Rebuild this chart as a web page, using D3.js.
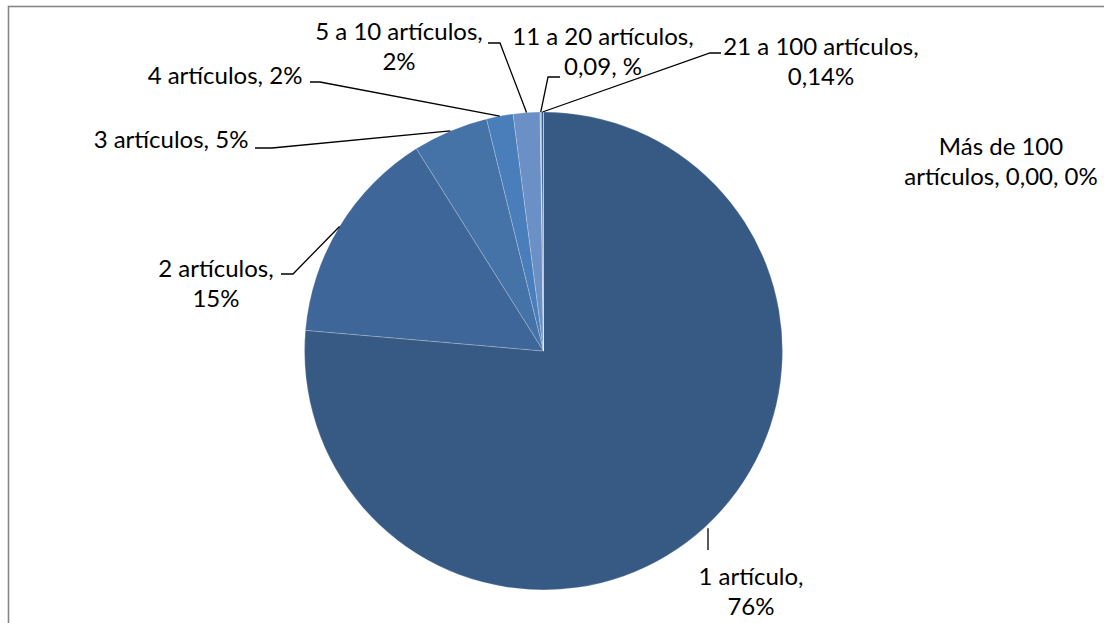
<!DOCTYPE html>
<html><head><meta charset="utf-8">
<script src="https://cdn.jsdelivr.net/npm/d3@7"></script>
<style>html,body{margin:0;padding:0;background:#fff;}svg{display:block;}</style>
</head><body>
<svg id="chart" width="1104" height="623"></svg>
<script>
// ---- data ----
const categories = ["1 artículo","2 artículos","3 artículos","4 artículos","5 a 10 artículos","11 a 20 artículos","21 a 100 artículos","Más de 100 artículos"];
const values = [76.4, 14.7, 5.1, 1.8, 1.8, 0.09, 0.14, 0];
const labelLines = [
  ["1 artículo,","76%"],
  ["2 artículos,","15%"],
  ["3 artículos, 5%"],
  ["4 artículos, 2%"],
  ["5 a 10 artículos,","2%"],
  ["11 a 20 artículos,","0,09, %"],
  ["21 a 100 artículos,","0,14%"],
  ["Más de 100","artículos, 0,00, 0%"]
];
const colors = ["#375a85","#3e6698","#4572a7","#4a7ebb","#6a90c6","#b4c7e3","#3a5e8c","#3a5e8c"];

// ---- layout (label placement) ----
const cx = 543.5, cy = 351, R = 239;
const fontSize = 24, lineH = 30;
const labelPos = [
  {x:751, y:585, pts:[[708,550]]},
  {x:216, y:277, pts:[[293,274],[281,274]]},
  {x:171, y:148, pts:[[272,148],[255,148]]},
  {x:225, y:84,  pts:[[320,82],[310,82]]},
  {x:399, y:40,  pts:[[500,43],[488,43]]},
  {x:603, y:45,  pts:[[548,77],[560,77]]},
  {x:821, y:55,  pts:[[710,53],[721,53]]},
  {x:1001,y:155, pts:null}
];

const svg = d3.select("#chart");
svg.append("rect").attr("x",8.5).attr("y",6.5).attr("width",1200).attr("height",700)
  .attr("fill","#fff").attr("stroke","#868686").attr("stroke-width",1.6);

const pie = d3.pie().sort(null).value(d=>d)(values);
const arc = d3.arc().innerRadius(0).outerRadius(R);
const g = svg.append("g").attr("transform",`translate(${cx},${cy})`);
g.selectAll("path").data(pie).join("path")
  .attr("d",arc).attr("fill",(d,i)=>colors[i])
  .attr("stroke","rgba(255,255,255,0.35)").attr("stroke-width",0.6);

// leader lines
pie.forEach((d,i)=>{
  const lp = labelPos[i];
  if(!lp.pts || d.value===0) return;
  const a = (d.startAngle+d.endAngle)/2;
  const r0 = i===0 ? R-24 : R;
  const start = [cx + r0*Math.sin(a), cy - r0*Math.cos(a)];
  let pts;
  if(i===0){ pts = [[lp.pts[0][0], cy - (R-0)*Math.cos(a)+1], lp.pts[0]]; }
  else pts = [start, ...lp.pts];
  svg.append("path").attr("d", d3.line()(pts))
    .attr("fill","none").attr("stroke","#000").attr("stroke-width",1.3);
});

// labels
const lab = svg.append("g").attr("font-family","Lato, 'Open Sans', sans-serif")
  .attr("font-size",fontSize).attr("fill","#000").attr("text-anchor","middle");
labelLines.forEach((lines,i)=>{
  const lp = labelPos[i];
  const t = lab.append("text").attr("x",lp.x).attr("y",lp.y);
  lines.forEach((s,k)=>{
    t.append("tspan").attr("x",lp.x).attr("dy",k===0?0:lineH).text(s);
  });
});
</script>
</body></html>
